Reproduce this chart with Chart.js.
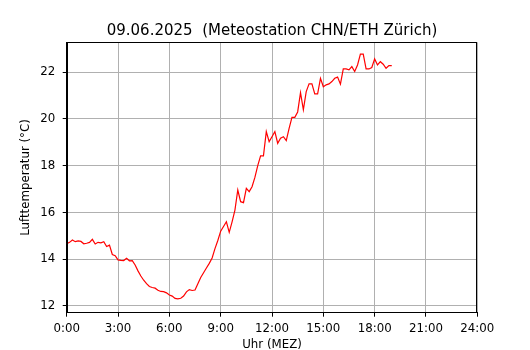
<!DOCTYPE html>
<html>
<head>
<meta charset="utf-8">
<script src="https://cdn.jsdelivr.net/npm/chart.js@4.4.1/dist/chart.umd.min.js"></script>
<style>
  html, body { margin: 0; padding: 0; background: #fff; }
  #wrap { width: 530px; height: 350px; }
</style>
</head>
<body>
<div id="wrap"><canvas id="c" width="530" height="350"></canvas></div>
<script>
// ---- Data (10-minute readings starting at 0:00) ----
const titleText = "09.06.2025  (Meteostation CHN/ETH Zürich)";
const xLabel = "Uhr (MEZ)";
const yLabel = "Lufttemperatur (°C)";
const startHour = 0;
const stepMinutes = 10;
const temperatures = [
  14.66, 14.72, 14.82, 14.75, 14.78, 14.76,   // 0:00 - 0:50
  14.66, 14.68, 14.72, 14.85, 14.65, 14.72,   // 1:00
  14.70, 14.75, 14.54, 14.60, 14.20, 14.15,   // 2:00
  13.97, 13.95, 13.94, 14.04, 13.93, 13.94,   // 3:00
  13.75, 13.50, 13.28, 13.10, 12.95, 12.83,   // 4:00
  12.79, 12.76, 12.67, 12.62, 12.61, 12.56,   // 5:00
  12.47, 12.42, 12.32, 12.30, 12.33, 12.42,   // 6:00
  12.60, 12.70, 12.66, 12.68, 12.95, 13.22,   // 7:00
  13.42, 13.62, 13.82, 14.05, 14.45, 14.80,   // 8:00
  15.20, 15.40, 15.60, 15.15, 15.60, 16.10,   // 9:00
  16.96, 16.46, 16.42, 17.03, 16.89, 17.10,   // 10:00
  17.50, 18.00, 18.42, 18.42, 19.46, 19.03,   // 11:00
  19.24, 19.46, 18.96, 19.18, 19.24, 19.07,   // 12:00
  19.60, 20.07, 20.07, 20.30, 21.13, 20.39,   // 13:00
  21.17, 21.50, 21.50, 21.07, 21.07, 21.74,   // 14:00
  21.38, 21.46, 21.50, 21.60, 21.74, 21.79,   // 15:00
  21.49, 22.14, 22.14, 22.10, 22.24, 22.03,   // 16:00
  22.31, 22.77, 22.77, 22.14, 22.14, 22.20,   // 17:00
  22.57, 22.31, 22.45, 22.34, 22.17, 22.28,   // 18:00
  22.28                                       // 19:00
];
const xTicks = [0, 3, 6, 9, 12, 15, 18, 21, 24];
const yTicks = [12, 14, 16, 18, 20, 22];
const xMin = 0, xMax = 24;
const yMin = 11.71, yMax = 23.28;

const points = temperatures.map((v, i) => ({ x: startHour + i * stepMinutes / 60, y: v }));

const FONT = "'DejaVu Sans', 'Liberation Sans', sans-serif";

const frame = {
  id: 'frame',
  afterDraw(chart) {
    const { ctx, chartArea: a } = chart;
    ctx.save();
    ctx.strokeStyle = '#000';
    ctx.lineWidth = 1;
    const l = Math.round(a.left) + 0.5, r = Math.round(a.right) - 0.5;
    const t = Math.round(a.top) + 0.5, b = Math.round(a.bottom) - 0.5;
    ctx.strokeRect(l, t, r - l, b - t);
    ctx.restore();
  }
};

new Chart(document.getElementById('c'), {
  type: 'line',
  data: {
    datasets: [{
      data: points,
      borderColor: '#ff0000',
      borderWidth: 1.2,
      pointRadius: 0,
      tension: 0,
      fill: false
    }]
  },
  options: {
    responsive: false,
    animation: false,
    devicePixelRatio: 1,
    layout: { padding: { left: 0, right: 52.7, top: 0, bottom: 0 } },
    plugins: {
      legend: { display: false },
      tooltip: { enabled: false },
      title: {
        display: true,
        text: titleText,
        fullSize: false,
        color: '#000',
        font: { family: FONT, size: 15, weight: 'normal', lineHeight: 1.2 },
        padding: { top: 22, bottom: 2.3 }
      }
    },
    scales: {
      x: {
        type: 'linear',
        min: xMin, max: xMax,
        afterFit(s) { s.height = 37.3; },
        afterBuildTicks(s) { s.ticks = xTicks.map(v => ({ value: v })); },
        ticks: {
          color: '#000',
          font: { family: FONT, size: 11.8 },
          padding: 5,
          maxRotation: 0,
          autoSkip: false,
          callback: v => v + ':00'
        },
        grid: { color: '#b0b0b0', lineWidth: 1, tickColor: '#000', tickLength: 4, drawTicks: true },
        border: { display: true, color: '#000', width: 1 },
        title: {
          display: true, text: xLabel, color: '#000',
          font: { family: FONT, size: 11.8, lineHeight: 1.2 },
          padding: { top: 0, bottom: -2 }
        }
      },
      y: {
        type: 'linear',
        min: yMin, max: yMax,
        afterFit(s) { s.width = 66.7; },
        afterBuildTicks(s) { s.ticks = yTicks.map(v => ({ value: v })); },
        ticks: {
          color: '#000',
          font: { family: FONT, size: 11.8 },
          padding: 7.5,
          autoSkip: false,
          callback: v => String(v)
        },
        grid: { color: '#b0b0b0', lineWidth: 1, tickColor: '#000', tickLength: 4, drawTicks: true },
        border: { display: true, color: '#000', width: 1 },
        title: {
          display: true, text: yLabel, color: '#000',
          font: { family: FONT, size: 11.8, lineHeight: 1.2 },
          padding: { top: 19, bottom: 0 }
        }
      }
    }
  },
  plugins: [frame]
});
</script>
</body>
</html>
